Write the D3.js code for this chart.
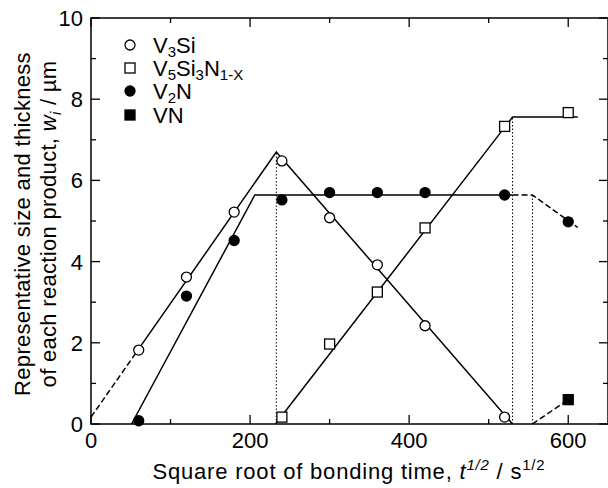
<!DOCTYPE html>
<head>
  <meta charset="utf-8">
  <script src="https://d3js.org/d3.v7.min.js"></script>
  <style>
    body { margin: 0; background: #fff; }
    text { font-family: "Liberation Sans", Arial, sans-serif; fill: #000; }
  </style>
</head>
<body>
<script>
  var v3siX = [60, 120, 180, 240, 300, 360, 420, 520],
    v3siY = [1.82, 3.62, 5.22, 6.48, 5.08, 3.92, 2.42, 0.17];
  var v5si3nX = [240, 300, 360, 420, 520, 600],
    v5si3nY = [0.17, 1.97, 3.25, 4.83, 7.33, 7.67];
  var v2nX = [60, 120, 180, 240, 300, 360, 420, 520, 600],
    v2nY = [0.08, 3.15, 4.52, 5.52, 5.7, 5.7, 5.7, 5.64, 4.98];
  var vnX = [600],
    vnY = [0.6];

  // guide lines drawn through the points (solid = fit, dashed = extrapolated)
  var v3siFit = [[60, 1.85], [233, 6.7], [530, 0]],
    v3siDash = [[0, 0.17], [60, 1.85]],
    v2nFit = [[51, 0], [206, 5.64], [530, 5.64]],
    v2nDash = [[530, 5.64], [555, 5.64], [612, 4.84]],
    v5si3nFit = [[232, 0], [530, 7.56], [612, 7.56]],
    vnDash = [[555, 0], [600, 0.6]],
    dropLines = [[233, 6.7], [530, 7.56], [555, 5.64]];

  var xMajor = [0, 200, 400, 600], xMinor = [100, 300, 500],
    yMajor = [0, 2, 4, 6, 8, 10], yMinor = [1, 3, 5, 7, 9];

  var outerWidth = 608, outerHeight = 488;
  var margin = { top: 18, left: 91, right: 0, bottom: 64 };
  var width = outerWidth - margin.left - margin.right,
    height = outerHeight - margin.top - margin.bottom;

  var xScale = d3.scaleLinear().domain([0, 650]).range([0, 517]);
  var yScale = d3.scaleLinear().domain([0, 10]).range([height, 0]);

  var svg = d3.select("body").append("svg")
    .attr("width", outerWidth)
    .attr("height", outerHeight);
  var g = svg.append("g")
    .attr("transform", "translate(" + margin.left + "," + margin.top + ")");

  var plotW = xScale(650);

  // frame
  g.append("rect")
    .attr("width", plotW).attr("height", height)
    .attr("fill", "none").attr("stroke", "#000").attr("stroke-width", 1.5);

  // ticks, all pointing inward, on every side
  function ticks(values, len) {
    values.forEach(function(v) {
      var x = xScale(v);
      g.append("line").attr("x1", x).attr("x2", x).attr("y1", height).attr("y2", height - len)
        .attr("stroke", "#000").attr("stroke-width", 1.3);
      g.append("line").attr("x1", x).attr("x2", x).attr("y1", 0).attr("y2", len)
        .attr("stroke", "#000").attr("stroke-width", 1.3);
    });
  }
  function yticks(values, len) {
    values.forEach(function(v) {
      var y = yScale(v);
      g.append("line").attr("x1", 0).attr("x2", len).attr("y1", y).attr("y2", y)
        .attr("stroke", "#000").attr("stroke-width", 1.3);
      g.append("line").attr("x1", plotW).attr("x2", plotW - len).attr("y1", y).attr("y2", y)
        .attr("stroke", "#000").attr("stroke-width", 1.3);
    });
  }
  ticks(xMajor, 9); ticks(xMinor, 5);
  yticks(yMajor, 9); yticks(yMinor, 5);

  g.selectAll(".xlab").data(xMajor).enter().append("text")
    .attr("x", function(d) { return xScale(d); })
    .attr("y", height + 24)
    .attr("text-anchor", "middle")
    .style("font-size", "22px")
    .text(function(d) { return d; });

  g.selectAll(".ylab").data(yMajor).enter().append("text")
    .attr("x", -8)
    .attr("y", function(d) { return yScale(d) + 8; })
    .attr("text-anchor", "end")
    .style("font-size", "22px")
    .text(function(d) { return d; });

  // lines
  var line = d3.line()
    .x(function(d) { return xScale(d[0]); })
    .y(function(d) { return yScale(d[1]); });

  [v3siFit, v2nFit, v5si3nFit].forEach(function(pts) {
    g.append("path").attr("d", line(pts))
      .attr("fill", "none").attr("stroke", "#000").attr("stroke-width", 1.5);
  });
  [v3siDash, v2nDash, vnDash].forEach(function(pts) {
    g.append("path").attr("d", line(pts))
      .attr("fill", "none").attr("stroke", "#000").attr("stroke-width", 1.5)
      .attr("stroke-dasharray", "6,3");
  });
  dropLines.forEach(function(p) {
    g.append("line")
      .attr("x1", xScale(p[0])).attr("x2", xScale(p[0]))
      .attr("y1", yScale(0)).attr("y2", yScale(p[1]))
      .attr("stroke", "#000").attr("stroke-width", 1)
      .attr("stroke-dasharray", "1.5,2");
  });

  // markers
  function circles(xs, ys, fill) {
    xs.forEach(function(x, i) {
      g.append("circle").attr("cx", xScale(x)).attr("cy", yScale(ys[i]))
        .attr("r", 5).attr("fill", fill).attr("stroke", "#000").attr("stroke-width", 1.3);
    });
  }
  function squares(xs, ys, fill) {
    xs.forEach(function(x, i) {
      g.append("rect").attr("x", xScale(x) - 5).attr("y", yScale(ys[i]) - 5)
        .attr("width", 10).attr("height", 10)
        .attr("fill", fill).attr("stroke", "#000").attr("stroke-width", 1.3);
    });
  }
  circles(v3siX, v3siY, "#fff");
  squares(v5si3nX, v5si3nY, "#fff");
  circles(v2nX, v2nY, "#000");
  squares(vnX, vnY, "#000");

  // legend
  var legend = svg.append("g").attr("transform", "translate(130,0)");
  var rows = [
    { y: 45, shape: "circle", fill: "#fff", parts: [["V", 0], ["3", 1], ["Si", 0]] },
    { y: 68, shape: "square", fill: "#fff", parts: [["V", 0], ["5", 1], ["Si", 0], ["3", 1], ["N", 0], ["1-X", 1]] },
    { y: 91, shape: "circle", fill: "#000", parts: [["V", 0], ["2", 1], ["N", 0]] },
    { y: 115, shape: "square", fill: "#000", parts: [["VN", 0]] }
  ];
  rows.forEach(function(r) {
    if (r.shape === "circle") {
      legend.append("circle").attr("cx", 0).attr("cy", r.y).attr("r", 5)
        .attr("fill", r.fill).attr("stroke", "#000").attr("stroke-width", 1.3);
    } else {
      legend.append("rect").attr("x", -5).attr("y", r.y - 5).attr("width", 10).attr("height", 10)
        .attr("fill", r.fill).attr("stroke", "#000").attr("stroke-width", 1.3);
    }
    var t = legend.append("text").attr("x", 23).attr("y", r.y + 8).style("font-size", "22px");
    var prevSub = 0;
    r.parts.forEach(function(p) {
      t.append("tspan")
        .attr("dy", (p[1] - prevSub) * 4)
        .style("font-size", p[1] ? "15px" : "22px")
        .text(p[0]);
      prevSub = p[1];
    });
  });

  // axis titles
  var xt = svg.append("text").attr("x", 349).attr("y", 479)
    .attr("text-anchor", "middle").style("font-size", "22px")
    .style("letter-spacing", "0.8px");
  xt.append("tspan").text("Square root of bonding time,  ");
  xt.append("tspan").style("font-style", "italic").text("t");
  xt.append("tspan").attr("dy", -9).style("font-size", "15px").style("font-style", "italic").text("1/2");
  xt.append("tspan").attr("dy", 9).text(" / s");
  xt.append("tspan").attr("dy", -9).style("font-size", "15px").text("1/2");

  var yt = svg.append("g").attr("transform", "translate(0,224) rotate(-90)");
  yt.append("text").attr("x", 0).attr("y", 30).attr("text-anchor", "middle")
    .style("font-size", "22px").style("letter-spacing", "0.3px")
    .text("Representative size and thickness");
  var yt2 = yt.append("text").attr("x", 0).attr("y", 56).attr("text-anchor", "middle")
    .style("font-size", "22px").style("letter-spacing", "0.3px");
  yt2.append("tspan").text("of each reaction product,  ");
  yt2.append("tspan").style("font-style", "italic").text("w");
  yt2.append("tspan").attr("dy", 5).style("font-size", "15px").style("font-style", "italic").text("i");
  yt2.append("tspan").attr("dy", -5).text(" / \u00b5m");
</script>
</body>
